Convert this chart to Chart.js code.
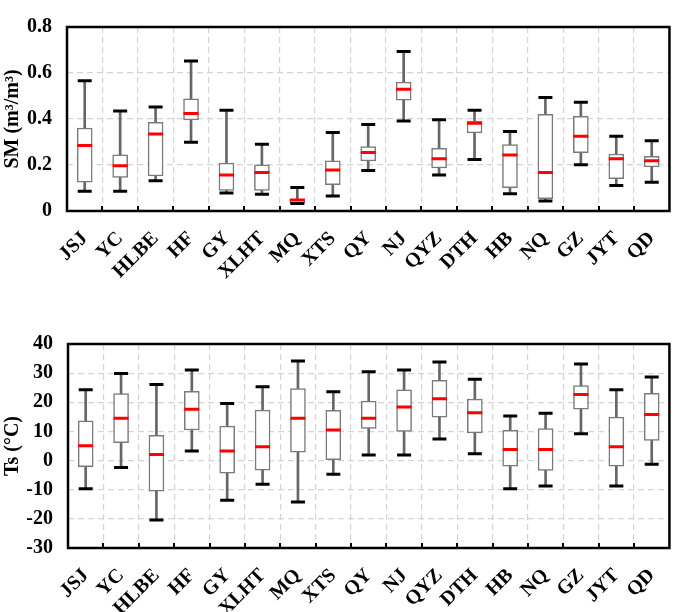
<!DOCTYPE html>
<html><head><meta charset="utf-8">
<script src="https://cdn.jsdelivr.net/npm/chart.js@4.4.1/dist/chart.umd.min.js"></script>
<style>
html,body{margin:0;padding:0;background:#fff;}
#w1{position:absolute;left:0;top:0;width:685px;height:290px;}
#w2{position:absolute;left:0;top:300px;width:685px;height:312px;}
</style></head><body>
<div id="w1"><canvas id="c1"></canvas></div>
<div id="w2"><canvas id="c2"></canvas></div>
<script>
const categories = ['JSJ','YC','HLBE','HF','GY','XLHT','MQ','XTS','QY','NJ','QYZ','DTH','HB','NQ','GZ','JYT','QD'];

const smMin = [0.086,0.086,0.131,0.299,0.078,0.073,0.033,0.065,0.176,0.391,0.157,0.224,0.075,0.043,0.201,0.111,0.125];
const smQ1  = [0.125,0.146,0.152,0.396,0.089,0.089,0.034,0.115,0.218,0.482,0.187,0.340,0.101,0.054,0.254,0.141,0.192];
const smMed = [0.285,0.197,0.335,0.424,0.157,0.167,0.048,0.178,0.254,0.529,0.227,0.382,0.243,0.167,0.325,0.227,0.218];
const smQ3  = [0.361,0.244,0.386,0.488,0.208,0.201,0.051,0.218,0.280,0.560,0.273,0.391,0.289,0.420,0.412,0.248,0.238];
const smMax = [0.566,0.435,0.452,0.652,0.438,0.290,0.102,0.341,0.376,0.693,0.397,0.438,0.346,0.494,0.473,0.325,0.305];

const tsMin = [-9.7,-2.4,-20.4,3.3,-13.6,-8.1,-14.2,-4.7,1.9,1.9,7.4,2.3,-9.7,-8.7,9.2,-8.7,-1.3];
const tsQ1  = [-2.1,6.1,-10.5,10.5,-4.3,-3.3,2.9,0.3,11.0,10.0,14.9,9.5,-1.9,-3.4,17.6,-1.9,6.9];
const tsMed = [5.1,14.5,2.1,17.6,3.3,4.7,14.5,10.5,14.5,18.4,21.2,16.4,3.8,3.8,22.7,4.7,15.8];
const tsQ3  = [13.6,23.0,8.7,23.8,11.8,17.3,24.7,17.2,20.4,24.3,27.5,21.1,10.4,11.0,25.7,14.9,23.1];
const tsMax = [24.3,29.9,26.1,31.1,19.6,25.3,34.2,23.6,30.5,31.1,33.8,27.9,15.3,16.2,33.1,24.3,28.7];

const smTicks = {min:0, max:0.8, step:0.2};
const tsTicks = {min:-30, max:40, step:10};

const FONT = "'Liberation Serif','Times New Roman',serif";

const framePlugin = {
  id:'frame',
  afterDraw(chart){
    const {ctx, chartArea:a, scales:{x}} = chart;
    ctx.save();
    ctx.strokeStyle = '#000';
    ctx.lineWidth = 2;
    const n = x.getLabels().length;
    const half = (x.getPixelForValue(1) - x.getPixelForValue(0)) / 2;
    for (let i = 1; i < n; i++) {
      const px = Math.round(x.getPixelForValue(i) - half);
      ctx.beginPath(); ctx.moveTo(px, a.bottom); ctx.lineTo(px, a.bottom - 5); ctx.stroke();
    }
    ctx.lineWidth = 2.5;
    ctx.strokeRect(a.left, a.top, a.right - a.left, a.bottom - a.top);
    ctx.restore();
  }
};

function makeChart(id, lo, q1, med, q3, hi, tk, title, padTop, xHeight, yWidth) {
  new Chart(document.getElementById(id), {
    type: 'bar',
    data: {
      labels: categories,
      datasets: [
        { type:'line', data: med, showLine:false, pointStyle:'line', pointRadius:7.5, pointHoverRadius:7.5,
          pointBorderColor:'#ff0000', pointBorderWidth:3, order:0 },
        { type:'line', data: hi, showLine:false, pointStyle:'line', pointRadius:7, pointHoverRadius:7,
          pointBorderColor:'#000', pointBorderWidth:3, order:1 },
        { type:'line', data: lo, showLine:false, pointStyle:'line', pointRadius:7, pointHoverRadius:7,
          pointBorderColor:'#000', pointBorderWidth:3, order:2 },
        { data: categories.map((c,i)=>[q1[i], q3[i]]), grouped:false, barThickness:15,
          backgroundColor:'#fff', borderColor:'#7a7a7a', borderWidth:1.5, borderSkipped:false, order:3 },
        { data: categories.map((c,i)=>[lo[i], hi[i]]), grouped:false, barThickness:2,
          backgroundColor:'#666', borderWidth:0, order:4 }
      ]
    },
    options: {
      responsive:true, maintainAspectRatio:false, animation:false,
      layout:{ padding:{ top:padTop, right:2, left:0, bottom:0 } },
      plugins:{ legend:{display:false}, tooltip:{enabled:false} },
      scales:{
        x:{
          offset:true,
          grid:{ offset:true, color:'#d4d4d4', lineWidth:1.2, drawTicks:false },
          border:{ display:false, dash:[6,4] },
          ticks:{ autoSkip:false, minRotation:45, maxRotation:45, padding:16, color:'#000',
                  font:{ family:FONT, size:20, weight:'bold' } },
          afterFit(s){ s.height = xHeight; }
        },
        y:{
          min:tk.min, max:tk.max,
          grid:{ color:'#d4d4d4', lineWidth:1.2, drawTicks:false },
          border:{ display:false, dash:[6,4] },
          ticks:{ stepSize:tk.step, padding:15, color:'#000',
                  font:{ family:FONT, size:20, weight:'bold' } },
          title:{ display:true, text:title, color:'#000', padding:{top:1,bottom:0},
                  font:{ family:FONT, size:20, weight:'bold' } },
          afterFit(s){ s.width = yWidth; }
        }
      }
    },
    plugins:[framePlugin]
  });
}

makeChart('c1', smMin, smQ1, smMed, smQ3, smMax, smTicks, 'SM (m³/m³)', 7, 79, 67);
makeChart('c2', tsMin, tsQ1, tsMed, tsQ3, tsMax, tsTicks, 'Ts (°C)', 44, 64, 68);
</script>
</body></html>
